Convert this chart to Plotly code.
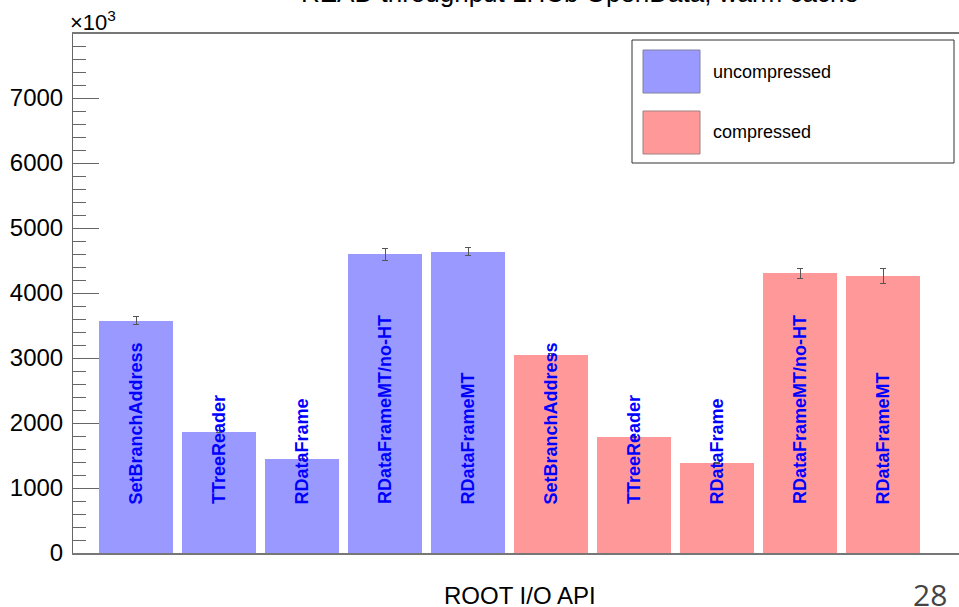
import plotly.graph_objects as go

# ---- data ----
categories = ["SetBranchAddress", "TTreeReader", "RDataFrame", "RDataFrameMT/no-HT", "RDataFrameMT"]
uncompressed = [3574, 1866, 1441, 4595, 4636]
uncompressed_err = [60, 15, 15, 88, 60]
compressed = [3050, 1785, 1385, 4303, 4262]
compressed_err = [15, 15, 15, 77, 113]
series_names = ["uncompressed", "compressed"]
title_text = "READ throughput LHCb OpenData, warm cache"
x_title = "ROOT I/O API"
y_ticks = [0, 1000, 2000, 3000, 4000, 5000, 6000, 7000]
page_number = "28"

# ---- layout geometry (pixels) ----
W, H = 959, 607
L, R, T, B = 73, 959, 34, 553

def px(x):
    return (x - L) / (R - L)

def py(y):
    return (B - y) / (B - T)

BLUE = "#9999ff"
RED = "#ff9999"
FONT = "Liberation Sans, Arial, Helvetica, sans-serif"

n = len(categories)
x_unc = list(range(n))
x_cmp = list(range(n, 2 * n))

fig = go.Figure()
fig.add_trace(go.Bar(
    x=x_unc, y=uncompressed, width=0.89, name=series_names[0],
    marker=dict(color=BLUE, line=dict(width=0)),
    error_y=dict(type="data", array=uncompressed_err, color="#555555", thickness=1, width=3),
    showlegend=False,
))
fig.add_trace(go.Bar(
    x=x_cmp, y=compressed, width=0.89, name=series_names[1],
    marker=dict(color=RED, line=dict(width=0)),
    error_y=dict(type="data", array=compressed_err, color="#555555", thickness=1, width=3),
    showlegend=False,
))

annotations = []
# bar labels (vertical, bold blue) inside bars
for i, lab in enumerate(categories + categories):
    annotations.append(dict(
        x=i, y=715, xref="x", yref="y", text="<b>%s</b>" % lab, textangle=-90,
        showarrow=False, xanchor="center", yanchor="bottom",
        font=dict(family=FONT, size=18, color="#0000ff"),
    ))

# title (cut at the top)
annotations.append(dict(
    x=px(580), y=py(10), xref="paper", yref="paper", text=title_text,
    showarrow=False, xanchor="center", yanchor="bottom",
    font=dict(family=FONT, size=26, color="#000000"),
))
# x10^3
annotations.append(dict(
    x=px(68), y=py(37), xref="paper", yref="paper", text="×10<sup>3</sup>",
    showarrow=False, xanchor="left", yanchor="bottom",
    font=dict(family=FONT, size=22, color="#000000"),
))
# x axis title
annotations.append(dict(
    x=px(520), y=py(595), xref="paper", yref="paper", text=x_title,
    showarrow=False, xanchor="center", yanchor="middle",
    font=dict(family=FONT, size=24, color="#000000"),
))
# page number
annotations.append(dict(
    x=px(930), y=py(594), xref="paper", yref="paper", text=page_number,
    showarrow=False, xanchor="center", yanchor="middle",
    font=dict(family="Open Sans, DejaVu Sans, sans-serif", size=30, color="#444444"),
))

# legend made of shapes + text
shapes = [
    dict(type="rect", xref="paper", yref="paper", x0=px(632), x1=px(954), y0=py(163), y1=py(40),
         line=dict(color="#333333", width=1), fillcolor="white"),
    dict(type="rect", xref="paper", yref="paper", x0=px(643), x1=px(700), y0=py(93), y1=py(50),
         line=dict(color="#8080a0", width=1), fillcolor=BLUE),
    dict(type="rect", xref="paper", yref="paper", x0=px(643), x1=px(700), y0=py(154), y1=py(111),
         line=dict(color="#a08080", width=1), fillcolor=RED),
]
annotations.append(dict(
    x=px(711), y=py(72), xref="paper", yref="paper", text=series_names[0],
    showarrow=False, xanchor="left", yanchor="middle",
    font=dict(family=FONT, size=18, color="#000000"),
))
annotations.append(dict(
    x=px(711), y=py(132), xref="paper", yref="paper", text=series_names[1],
    showarrow=False, xanchor="left", yanchor="middle",
    font=dict(family=FONT, size=18, color="#000000"),
))

x0_val = -0.759
x1_val = x0_val + (R - L) / 83.0

fig.update_layout(
    width=W, height=H,
    margin=dict(l=L, r=W - R, t=T, b=H - B, pad=0),
    plot_bgcolor="white", paper_bgcolor="white",
    bargap=0, barmode="overlay",
    annotations=annotations, shapes=shapes,
    showlegend=False,
    xaxis=dict(
        range=[x0_val, x1_val], showgrid=False, zeroline=False,
        showline=True, linecolor="#777777", linewidth=2, mirror=True,
        tickvals=x_unc + x_cmp, ticks="inside", ticklen=4, tickcolor="#777777",
        showticklabels=False, layer="below traces",
    ),
    yaxis=dict(
        range=[0, 7985], showgrid=False, zeroline=False,
        showline=True, linecolor="#666666", linewidth=1,
        tickvals=y_ticks, tickformat="d", ticks="inside", ticklen=26, tickcolor="#666666",
        ticklabelstandoff=4,
        tickfont=dict(family=FONT, size=24, color="#000000"),
        minor=dict(dtick=200, ticks="inside", ticklen=13, tickcolor="#666666", showgrid=False),
    ),
)

fig.write_html("out.html", config={"displayModeBar": False},
               post_script="document.body.style.margin='0';")
